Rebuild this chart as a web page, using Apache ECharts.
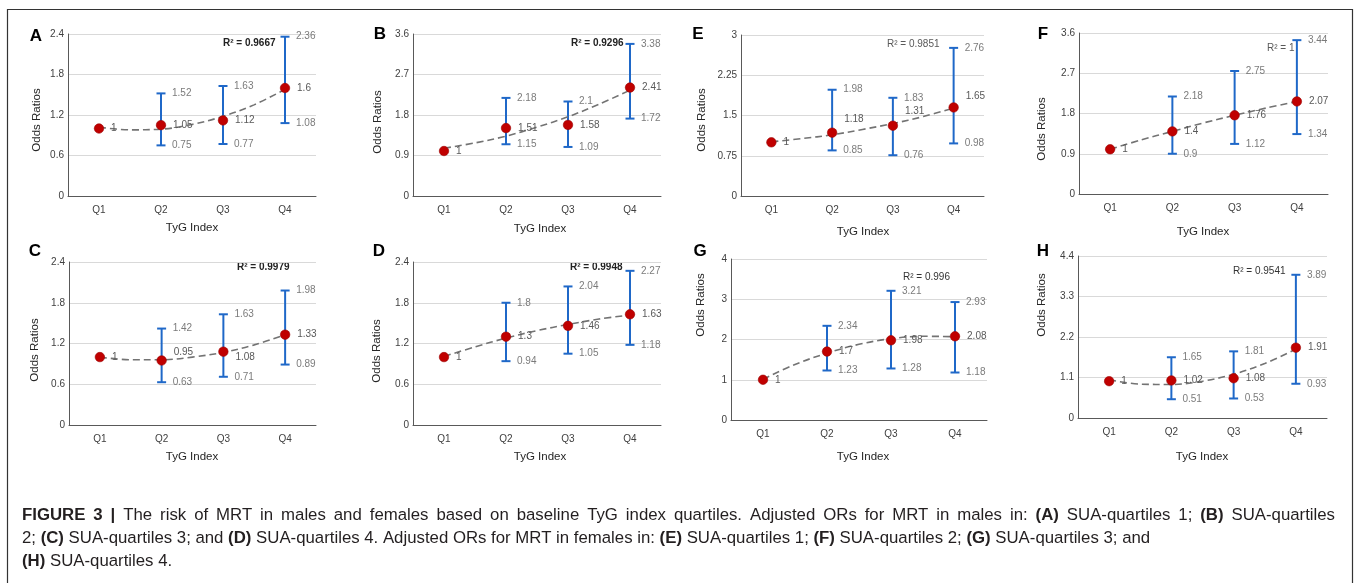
<!DOCTYPE html>
<html>
<head>
<meta charset="utf-8">
<title>TyG index quartiles and MRT risk</title>
<script src="https://cdn.jsdelivr.net/npm/echarts@6/dist/echarts.min.js"></script>
<style>
  html, body { margin: 0; padding: 0; background: #ffffff; }
  #chart { width: 1360px; height: 583px; }
</style>
</head>
<body>
<div id="chart"></div>
<script>
// ---- data ----
const categories = ['Q1', 'Q2', 'Q3', 'Q4'];
const trendX = [1, 1.5, 2, 2.5, 3, 3.5, 4];

// Males: A-D
const orA = [1, 1.05, 1.12, 1.6];
const loA = [null, 0.75, 0.77, 1.08];
const hiA = [null, 1.52, 1.63, 2.36];
const trendA = [1.02, 0.98, 0.99, 1.06, 1.18, 1.35, 1.58];
const ticksA = [0, 0.6, 1.2, 1.8, 2.4];
const r2A = 'R² = 0.9667';

const orB = [1, 1.51, 1.58, 2.41];
const loB = [null, 1.15, 1.09, 1.72];
const hiB = [null, 2.18, 2.1, 3.38];
const trendB = [1.06, 1.18, 1.33, 1.53, 1.76, 2.04, 2.35];
const ticksB = [0, 0.9, 1.8, 2.7, 3.6];
const r2B = 'R² = 0.9296';

const orC = [1, 0.95, 1.08, 1.33];
const loC = [null, 0.63, 0.71, 0.89];
const hiC = [null, 1.42, 1.63, 1.98];
const trendC = [1.0, 0.96, 0.96, 1.0, 1.07, 1.18, 1.33];
const ticksC = [0, 0.6, 1.2, 1.8, 2.4];
const r2C = 'R² = 0.9979';

const orD = [1, 1.3, 1.46, 1.63];
const loD = [null, 0.94, 1.05, 1.18];
const hiD = [null, 1.8, 2.04, 2.27];
const trendD = [1.01, 1.15, 1.28, 1.39, 1.48, 1.56, 1.62];
const ticksD = [0, 0.6, 1.2, 1.8, 2.4];
const r2D = 'R² = 0.9948';

// Females: E-H
const orE = [1, 1.18, 1.31, 1.65];
const loE = [null, 0.85, 0.76, 0.98];
const hiE = [null, 1.98, 1.83, 2.76];
const trendE = [1.01, 1.07, 1.14, 1.24, 1.35, 1.48, 1.64];
const ticksE = [0, 0.75, 1.5, 2.25, 3];
const r2E = 'R² = 0.9851';

const orF = [1, 1.4, 1.76, 2.07];
const loF = [null, 0.9, 1.12, 1.34];
const hiF = [null, 2.18, 2.75, 3.44];
const trendF = [1.0, 1.21, 1.4, 1.59, 1.76, 1.92, 2.07];
const ticksF = [0, 0.9, 1.8, 2.7, 3.6];
const r2F = 'R² = 1';

const orG = [1, 1.7, 1.98, 2.08];
const loG = [null, 1.23, 1.28, 1.18];
const hiG = [null, 2.34, 3.21, 2.93];
const trendG = [1.01, 1.38, 1.66, 1.88, 2.02, 2.08, 2.07];
const ticksG = [0, 1, 2, 3, 4];
const r2G = 'R² = 0.996';

const orH = [1, 1.02, 1.08, 1.91];
const loH = [null, 0.51, 0.53, 0.93];
const hiH = [null, 1.65, 1.81, 3.89];
const trendH = [1.04, 0.92, 0.91, 1.0, 1.19, 1.48, 1.87];
const ticksH = [0, 1.1, 2.2, 3.3, 4.4];
const r2H = 'R² = 0.9541';

const captionLines = [
  '{b|FIGURE 3 |} The risk of MRT in males and females based on baseline TyG index quartiles. Adjusted ORs for MRT in males in: {b|(A)} SUA-quartiles 1; {b|(B)} SUA-quartiles',
  '2; {b|(C)} SUA-quartiles 3; and {b|(D)} SUA-quartiles 4. Adjusted ORs for MRT in females in: {b|(E)} SUA-quartiles 1; {b|(F)} SUA-quartiles 2; {b|(G)} SUA-quartiles 3; and',
  '{b|(H)} SUA-quartiles 4.'
];

// ---- panel assembly ----
const panelData = {
  A: { or: orA, lo: loA, hi: hiA, trend: trendA, ticks: ticksA, r2: r2A },
  B: { or: orB, lo: loB, hi: hiB, trend: trendB, ticks: ticksB, r2: r2B },
  C: { or: orC, lo: loC, hi: hiC, trend: trendC, ticks: ticksC, r2: r2C },
  D: { or: orD, lo: loD, hi: hiD, trend: trendD, ticks: ticksD, r2: r2D },
  E: { or: orE, lo: loE, hi: hiE, trend: trendE, ticks: ticksE, r2: r2E },
  F: { or: orF, lo: loF, hi: hiF, trend: trendF, ticks: ticksF, r2: r2F },
  G: { or: orG, lo: loG, hi: hiG, trend: trendG, ticks: ticksG, r2: r2G },
  H: { or: orH, lo: loH, hi: hiH, trend: trendH, ticks: ticksH, r2: r2H }
};

// ---- layout & style ----
const FONT = '"Liberation Sans", Arial, sans-serif';
const BAR_COLOR = '#1f68c8';
const DOT_COLOR = '#c00000';
const LABEL_COLOR = '#595959';
const AXIS_TEXT = '#404040';

const layout = {
  A: { grid: [68, 34, 248, 162], letter: [36, 36], yTitle: [37, 120], xTitle: [192, 228], r2: [223, 43, 'bold', '#222'] },
  B: { grid: [413, 34, 248, 162], letter: [380, 34], yTitle: [378, 122], xTitle: [540, 229], r2: [571, 43, 'bold', '#222'] },
  E: { grid: [741, 35, 243, 161], letter: [698, 34], yTitle: [702, 120], xTitle: [863, 232], r2: [887, 44, 'normal', '#595959'] },
  F: { grid: [1079, 33, 249, 161], letter: [1043, 34], yTitle: [1042, 129], xTitle: [1203, 232], r2: [1267, 48, 'normal', '#595959'] },
  C: { grid: [69, 262, 247, 163], letter: [35, 251], yTitle: [35, 350], xTitle: [192, 457], r2: [237, 267, 'bold', '#222'] },
  D: { grid: [413, 262, 248, 163], letter: [379, 251], yTitle: [377, 351], xTitle: [540, 457], r2: [570, 267, 'bold', '#222'] },
  G: { grid: [731, 259, 256, 161], letter: [700, 251], yTitle: [701, 305], xTitle: [863, 457], r2: [903, 277, 'normal', '#333'] },
  H: { grid: [1078, 256, 249, 162], letter: [1043, 251], yTitle: [1042, 305], xTitle: [1202, 457], r2: [1233, 271, 'normal', '#333'] }
};
// vertical nudges for a few point labels
const pointLabelShift = {
  E: [0, -13, -14, -11],
  C: [0, -8, 6, 0]
};

const keys = ['A', 'B', 'E', 'F', 'C', 'D', 'G', 'H'];

function renderErrorBar(params, api) {
  const x = api.value(0);
  const pLo = api.coord([x, api.value(1)]);
  const pHi = api.coord([x, api.value(2)]);
  const w = 4.5;
  const st = { stroke: BAR_COLOR, lineWidth: 2 };
  return {
    type: 'group',
    children: [
      { type: 'line', shape: { x1: pLo[0], y1: pLo[1], x2: pHi[0], y2: pHi[1] }, style: st },
      { type: 'line', shape: { x1: pHi[0] - w, y1: pHi[1], x2: pHi[0] + w, y2: pHi[1] }, style: st },
      { type: 'line', shape: { x1: pLo[0] - w, y1: pLo[1], x2: pLo[0] + w, y2: pLo[1] }, style: st }
    ]
  };
}

const grids = [], xAxes = [], yAxes = [], series = [], graphics = [];

keys.forEach((k, i) => {
  const d = panelData[k];
  const L = layout[k];
  grids.push({ left: L.grid[0], top: L.grid[1], width: L.grid[2], height: L.grid[3], containLabel: false });

  xAxes.push({
    type: 'category', gridIndex: i, data: categories, boundaryGap: true,
    axisLine: { lineStyle: { color: '#595959', width: 1 } },
    axisTick: { show: false },
    axisLabel: { color: AXIS_TEXT, fontFamily: FONT, fontSize: 10, margin: 9 },
    splitLine: { show: false }
  });
  yAxes.push({
    type: 'value', gridIndex: i,
    min: d.ticks[0], max: d.ticks[d.ticks.length - 1], interval: d.ticks[1] - d.ticks[0],
    axisLine: { show: true, lineStyle: { color: '#595959', width: 1 } },
    axisTick: { show: false },
    axisLabel: { color: AXIS_TEXT, fontFamily: FONT, fontSize: 10, margin: 4,
      formatter: v => String(+v.toFixed(2)) },
    splitLine: { lineStyle: { color: '#d9d9d9', width: 1 } }
  });

  const bars = [], bounds = [];
  categories.forEach((c, j) => {
    if (d.hi[j] != null) {
      bars.push([j, d.lo[j], d.hi[j]]);
      bounds.push([j, d.hi[j]], [j, d.lo[j]]);
    }
  });
  const shift = pointLabelShift[k] || [0, 0, 0, 0];

  series.push({
    type: 'custom', xAxisIndex: i, yAxisIndex: i, renderItem: renderErrorBar,
    encode: { x: 0, y: [1, 2] }, data: bars, z: 2, silent: true
  });
  series.push({
    type: 'line', xAxisIndex: 8 + i, yAxisIndex: i,
    data: trendX.map((x, j) => [x, d.trend[j]]),
    showSymbol: false, smooth: 0.35, z: 3, silent: true,
    lineStyle: { color: '#737373', width: 1.6, type: [7, 4] }
  });
  series.push({
    type: 'scatter', xAxisIndex: i, yAxisIndex: i, data: bounds, symbolSize: 0, z: 4, silent: true,
    label: { show: true, position: 'right', distance: 11, color: LABEL_COLOR, fontFamily: FONT, fontSize: 10,
      formatter: p => String(p.value[1]) }
  });
  series.push({
    type: 'scatter', xAxisIndex: i, yAxisIndex: i, z: 5, silent: true,
    symbolSize: 9.5,
    itemStyle: { color: DOT_COLOR, borderColor: '#9a0000', borderWidth: 0.6, opacity: 1 },
    data: d.or.map((v, j) => ({ value: [j, v], label: { offset: [0, shift[j]] } })),
    label: { show: true, position: 'right', distance: 7, color: LABEL_COLOR, fontFamily: FONT, fontSize: 10,
      formatter: p => String(p.value[1]) }
  });

  graphics.push({
    type: 'text', x: L.letter[0], y: L.letter[1],
    style: { text: k, font: 'bold 17px ' + FONT, fill: '#000', align: 'center', verticalAlign: 'middle' }
  });
  graphics.push({
    type: 'text', x: L.yTitle[0], y: L.yTitle[1], rotation: Math.PI / 2,
    style: { text: 'Odds Ratios', font: '11.5px ' + FONT, fill: '#262626', align: 'center', verticalAlign: 'middle' }
  });
  graphics.push({
    type: 'text', x: L.xTitle[0], y: L.xTitle[1],
    style: { text: 'TyG Index', font: '11.5px ' + FONT, fill: '#262626', align: 'center', verticalAlign: 'middle' }
  });
  graphics.push({
    type: 'text', x: L.r2[0], y: L.r2[1],
    style: { text: d.r2, font: L.r2[2] + ' 10px ' + FONT, fill: L.r2[3], align: 'left', verticalAlign: 'middle' }
  });
});

// hidden value axes carrying the trend curves
keys.forEach((k, i) => {
  xAxes.push({ type: 'value', gridIndex: i, min: 0.5, max: 4.5, show: false });
});

// figure frame
graphics.push({
  type: 'rect', shape: { x: 7.5, y: 9.5, width: 1345, height: 600 },
  style: { fill: null, stroke: '#333', lineWidth: 1.2 }, z: -1
});

// caption: word-by-word layout, first line justified to the full text width
const CAP_SIZE = 16.8;
const CAP_LEFT = 22, CAP_RIGHT = 1335, CAP_TOP = 515, CAP_LEAD = 23;
const measureCtx = document.createElement('canvas').getContext('2d');
function capFont(bold) { return (bold ? 'bold ' : '') + CAP_SIZE + 'px ' + FONT; }
function textWidth(s, bold) { measureCtx.font = capFont(bold); return measureCtx.measureText(s).width; }

captionLines.forEach((line, j) => {
  const words = [];
  const re = /\{b\|([^}]*)\}|([^{]+)/g;
  let m;
  while ((m = re.exec(line)) !== null) {
    const bold = m[1] !== undefined;
    const txt = bold ? m[1] : m[2];
    txt.split(' ').filter(w => w.length).forEach(w => words.push({ w, bold }));
  }
  const widths = words.map(o => textWidth(o.w, o.bold));
  const total = widths.reduce((a, b) => a + b, 0);
  const space = textWidth(' ', false);
  const justify = j === 0;
  const gap = justify ? Math.max(space, (CAP_RIGHT - CAP_LEFT - total) / (words.length - 1)) : space;
  let x = CAP_LEFT;
  words.forEach((o, n) => {
    graphics.push({
      type: 'text', x: x, y: CAP_TOP + j * CAP_LEAD,
      style: { text: o.w, font: capFont(o.bold), fill: '#231f20', verticalAlign: 'middle', align: 'left' }
    });
    x += widths[n] + gap;
  });
});

const chart = echarts.init(document.getElementById('chart'), null, { renderer: 'canvas' });
chart.setOption({
  animation: false,
  backgroundColor: '#ffffff',
  grid: grids,
  xAxis: xAxes,
  yAxis: yAxes,
  series: series,
  graphic: { elements: graphics }
});
</script>
</body>
</html>
